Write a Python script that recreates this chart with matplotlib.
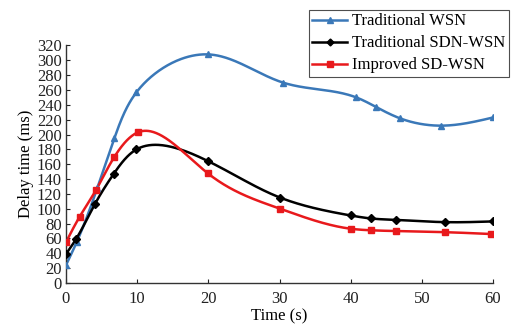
import numpy as np
import matplotlib
matplotlib.use("Agg")
import matplotlib.pyplot as plt

plt.rcParams['font.family'] = ['Liberation Serif', 'DejaVu Serif']

wsn_x = [0, 1.5, 4.4, 6.8, 9.9, 20, 30.5, 40.8, 43.6, 46.9, 52.7, 60]
wsn_y = [24, 55, 128, 195, 257, 308, 270, 250, 237, 222, 212, 223]

sdn_x = [0, 1.4, 4.1, 6.7, 9.9, 20, 30.1, 40, 42.8, 46.4, 53.2, 60]
sdn_y = [39, 59, 107, 147, 180, 164, 115, 91, 87, 85, 82, 83]

imp_x = [0, 1.9, 4.2, 6.8, 10.1, 19.9, 30.1, 40.1, 42.9, 46.4, 53.2, 59.7]
imp_y = [55, 89, 125, 170, 203, 148, 100, 73, 71, 70, 68.5, 66]

labels = ["Traditional WSN", "Traditional SDN-WSN", "Improved SD-WSN"]
colors = ["#3a78b8", "#000000", "#e8191c"]
markers = ["^", "D", "s"]


def spline_coef(t, y):
    k = len(t)
    h = np.diff(t)
    A = np.zeros((k, k))
    b = np.zeros(k)
    A[0, 0] = 1
    A[-1, -1] = 1
    for i in range(1, k - 1):
        A[i, i - 1] = h[i - 1]
        A[i, i] = 2 * (h[i - 1] + h[i])
        A[i, i + 1] = h[i]
        b[i] = 3 * ((y[i + 1] - y[i]) / h[i] - (y[i] - y[i - 1]) / h[i - 1])
    c = np.linalg.solve(A, b)
    bb = (y[1:] - y[:-1]) / h - h * (2 * c[:-1] + c[1:]) / 3
    d = (c[1:] - c[:-1]) / (3 * h)
    return c, bb, d


def eval_spline(t, y, c, bb, d, ts):
    idx = np.clip(np.searchsorted(t, ts) - 1, 0, len(t) - 2)
    dt = ts - t[idx]
    return y[idx] + bb[idx] * dt + c[idx] * dt ** 2 + d[idx] * dt ** 3


def parametric_spline(x, y, sx=7.1, sy=0.744, n=600):
    x = np.asarray(x, float)
    y = np.asarray(y, float)
    px, py = x * sx, y * sy
    seg = np.hypot(np.diff(px), np.diff(py))
    t = np.concatenate([[0], np.cumsum(seg)])
    ts = np.linspace(0, t[-1], n)
    cx = spline_coef(t, px)
    cy = spline_coef(t, py)
    xs = eval_spline(t, px, *cx, ts) / sx
    ys = eval_spline(t, py, *cy, ts) / sy
    return xs, ys


fig = plt.figure(figsize=(5.12, 3.27), dpi=100)
ax = fig.add_axes([66 / 512, 1 - 283 / 327, (493 - 66) / 512, (283 - 45.5) / 327])

series = [(wsn_x, wsn_y), (sdn_x, sdn_y), (imp_x, imp_y)]
for (xv, yv), lab, col, mk in zip(series, labels, colors, markers):
    xs, ys = parametric_spline(xv, yv)
    ax.plot(xs, ys, color=col, lw=1.8, zorder=2)
    ax.plot(xv, yv, linestyle='none', marker=mk, color=col, ms=5 if mk != 'D' else 4.5, zorder=3)
    ax.plot([], [], color=col, lw=1.8, marker=mk, ms=4 if mk != 'D' else 3.5, label=lab)

ax.set_xlim(0, 60)
ax.set_ylim(0, 320)
ax.set_xticks(np.arange(0, 61, 10))
ax.set_yticks(np.arange(0, 321, 20))
ax.tick_params(direction='in', length=3, labelsize=12, colors='#222222', pad=3)
ax.tick_params(axis='x', pad=6)
for s in ['top', 'right']:
    ax.spines[s].set_visible(False)
for s in ['left', 'bottom']:
    ax.spines[s].set_color('#333333')
    ax.spines[s].set_linewidth(1.0)

ax.set_xlabel("Time (s)", fontsize=12, labelpad=1)
ax.set_ylabel("Delay time (ms)", fontsize=12, labelpad=2)

leg = fig.legend(loc='upper left', bbox_to_anchor=(309 / 512, 1 - 10 / 327), fontsize=12,
                 frameon=True, fancybox=False, edgecolor='#222222', handlelength=2.1,
                 borderpad=0.2, labelspacing=0.36, handletextpad=0.3, borderaxespad=0)
leg.get_frame().set_linewidth(0.8)

fig.savefig("out.png", dpi=100)
